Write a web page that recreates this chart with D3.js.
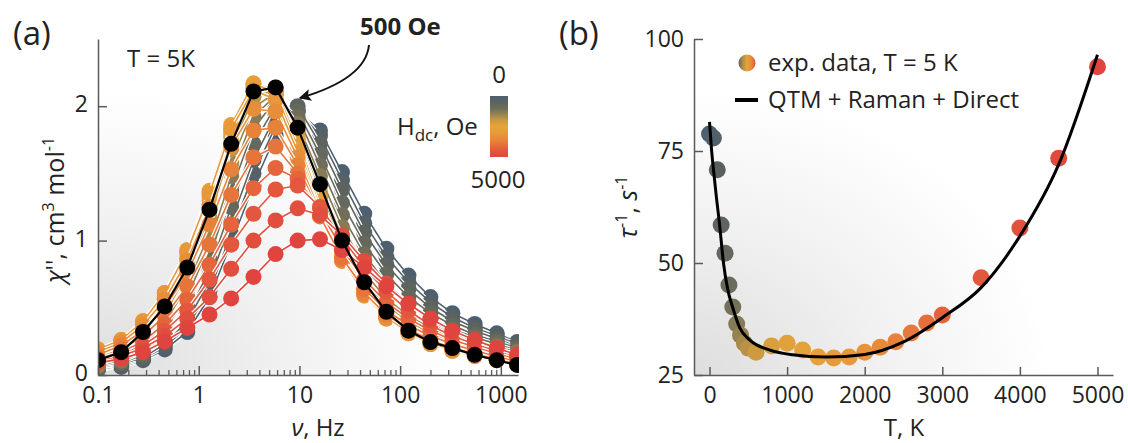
<!DOCTYPE html>
<html>
<head>
<meta charset="utf-8">
<script src="https://cdn.jsdelivr.net/npm/d3@7"></script>
<style>
  body { margin: 0; background: #fff; }
  svg text { font-family: "Open Sans", sans-serif; fill: #222; }
</style>
</head>
<body>
<svg id="drawing_region" width="1128" height="443"></svg>
<script>
// (a) chi'' vs frequency at T = 5 K, one row per dc field
const freqs = [0.1, 0.17, 0.28, 0.46, 0.77, 1.28, 2.1, 3.5, 5.8, 9.6, 16, 26.5, 44, 73, 121, 200, 330, 550, 910, 1450];
const fieldsA = [0, 50, 100, 150, 200, 250, 300, 400, 600, 800, 1000, 1400, 1800, 2200, 2600, 3000, 3500, 4000, 4500, 5000];
const chiA = [
  [0.04, 0.06, 0.11, 0.19, 0.32, 0.58, 0.98, 1.41, 1.78, 1.96, 1.82, 1.51, 1.20, 0.94, 0.74, 0.58, 0.46, 0.38, 0.31, 0.245],
  [0.04, 0.07, 0.12, 0.21, 0.36, 0.63, 1.05, 1.50, 1.85, 1.97, 1.78, 1.45, 1.13, 0.88, 0.69, 0.54, 0.43, 0.35, 0.29, 0.23],
  [0.05, 0.08, 0.13, 0.23, 0.40, 0.70, 1.14, 1.60, 1.93, 2.00, 1.72, 1.38, 1.06, 0.82, 0.64, 0.50, 0.40, 0.33, 0.27, 0.21],
  [0.05, 0.09, 0.15, 0.26, 0.45, 0.78, 1.25, 1.72, 2.00, 1.96, 1.64, 1.28, 0.98, 0.75, 0.58, 0.46, 0.37, 0.30, 0.25, 0.20],
  [0.06, 0.10, 0.17, 0.30, 0.51, 0.87, 1.37, 1.83, 2.05, 1.92, 1.56, 1.19, 0.90, 0.68, 0.53, 0.42, 0.34, 0.28, 0.23, 0.18],
  [0.07, 0.11, 0.19, 0.34, 0.58, 0.97, 1.48, 1.92, 2.08, 1.87, 1.48, 1.10, 0.82, 0.62, 0.48, 0.38, 0.31, 0.25, 0.21, 0.17],
  [0.08, 0.13, 0.22, 0.39, 0.66, 1.06, 1.58, 1.99, 2.10, 1.82, 1.41, 1.03, 0.76, 0.57, 0.44, 0.35, 0.28, 0.23, 0.19, 0.15],
  [0.10, 0.16, 0.27, 0.46, 0.75, 1.17, 1.68, 2.07, 2.12, 1.79, 1.36, 0.97, 0.70, 0.52, 0.40, 0.31, 0.25, 0.20, 0.16, 0.13],
  [0.13, 0.20, 0.33, 0.53, 0.84, 1.27, 1.77, 2.13, 2.13, 1.76, 1.32, 0.93, 0.66, 0.48, 0.36, 0.28, 0.22, 0.18, 0.14, 0.11],
  [0.15, 0.22, 0.35, 0.56, 0.87, 1.30, 1.80, 2.15, 2.14, 1.76, 1.31, 0.92, 0.64, 0.46, 0.34, 0.26, 0.21, 0.17, 0.13, 0.10],
  [0.17, 0.24, 0.37, 0.58, 0.90, 1.33, 1.83, 2.16, 2.13, 1.74, 1.29, 0.90, 0.62, 0.44, 0.33, 0.25, 0.20, 0.16, 0.12, 0.09],
  [0.19, 0.26, 0.40, 0.61, 0.93, 1.37, 1.86, 2.17, 2.10, 1.70, 1.25, 0.87, 0.60, 0.42, 0.31, 0.23, 0.18, 0.14, 0.11, 0.08],
  [0.19, 0.26, 0.40, 0.61, 0.92, 1.35, 1.83, 2.12, 2.05, 1.66, 1.22, 0.85, 0.59, 0.42, 0.31, 0.23, 0.18, 0.14, 0.11, 0.08],
  [0.17, 0.24, 0.37, 0.56, 0.85, 1.25, 1.70, 1.98, 1.96, 1.62, 1.21, 0.85, 0.60, 0.43, 0.32, 0.24, 0.19, 0.15, 0.11, 0.08],
  [0.15, 0.22, 0.33, 0.50, 0.76, 1.12, 1.53, 1.82, 1.84, 1.56, 1.19, 0.86, 0.61, 0.45, 0.34, 0.26, 0.20, 0.16, 0.12, 0.09],
  [0.13, 0.19, 0.29, 0.44, 0.66, 0.97, 1.34, 1.62, 1.70, 1.50, 1.18, 0.87, 0.64, 0.48, 0.37, 0.29, 0.23, 0.18, 0.14, 0.10],
  [0.12, 0.17, 0.25, 0.38, 0.56, 0.82, 1.12, 1.39, 1.54, 1.46, 1.22, 0.94, 0.71, 0.54, 0.42, 0.33, 0.26, 0.21, 0.16, 0.12],
  [0.11, 0.15, 0.22, 0.33, 0.48, 0.71, 0.97, 1.20, 1.38, 1.41, 1.25, 1.02, 0.80, 0.62, 0.48, 0.37, 0.29, 0.23, 0.18, 0.14],
  [0.10, 0.14, 0.20, 0.29, 0.42, 0.58, 0.79, 1.00, 1.15, 1.24, 1.19, 1.04, 0.85, 0.68, 0.53, 0.41, 0.32, 0.25, 0.20, 0.15],
  [0.09, 0.12, 0.17, 0.25, 0.35, 0.45, 0.57, 0.73, 0.90, 1.00, 1.01, 0.93, 0.80, 0.66, 0.53, 0.42, 0.33, 0.26, 0.20, 0.15]
];
const chi500 = [0.11, 0.17, 0.32, 0.51, 0.80, 1.23, 1.72, 2.11, 2.14, 1.84, 1.42, 1.00, 0.69, 0.47, 0.33, 0.245, 0.20, 0.15, 0.11, 0.075];
const xTicksA = [0.1, 1, 10, 100, 1000];
const yTicksA = [0, 1, 2];

// (b) relaxation rate vs field
const fieldB = [0, 50, 100, 150, 200, 250, 300, 350, 400, 450, 500, 600, 800, 1000, 1200, 1400, 1600, 1800, 2000, 2200, 2400, 2600, 2800, 3000, 3500, 4000, 4500, 5000];
const rateB = [78.8, 77.9, 70.8, 58.5, 52.2, 45.1, 40.2, 36.4, 33.9, 32.1, 31.0, 30.1, 31.5, 32.1, 30.6, 29.0, 28.8, 29.0, 30.1, 31.2, 32.4, 34.4, 36.6, 38.4, 46.7, 57.8, 73.4, 93.8];
const fitField = [0, 25, 50, 90, 130, 180, 230, 300, 390, 520, 770, 1070, 1500, 2000, 2500, 3000, 3500, 4000, 4500, 5000];
const fitRate = [81.5, 75.5, 71, 64.5, 58.5, 50, 44.5, 40, 35.5, 32.8, 30.6, 29.5, 29, 29.6, 32.4, 37.8, 44.5, 56, 72, 96.5];
const xTicksB = [0, 1000, 2000, 3000, 4000, 5000];
const yTicksB = [25, 50, 75, 100];

const cmap = d3.scaleLinear()
  .domain([0, 0.08, 0.2, 0.3, 0.42, 0.5, 0.65, 0.78, 0.88, 1])
  .range(["#4c6072", "#59615f", "#6b6c5c", "#96834f", "#d49d3e", "#e6a43a", "#e8963a", "#e6783b", "#e25a3d", "#e0443e"]);

const svg = d3.select('#drawing_region');
const defs = svg.append('defs');

function bgGradient(id) {
  const g = defs.append('radialGradient').attr('id', id)
    .attr('cx', 0).attr('cy', 1).attr('r', 1).attr('fx', 0).attr('fy', 1);
  g.append('stop').attr('offset', 0).attr('stop-color', '#dedede');
  g.append('stop').attr('offset', 0.45).attr('stop-color', '#f1f1f1');
  g.append('stop').attr('offset', 0.85).attr('stop-color', '#ffffff');
}
bgGradient('bgA');
bgGradient('bgB');

const barGrad = defs.append('linearGradient').attr('id', 'cbar')
  .attr('x1', 0).attr('y1', 0).attr('x2', 0).attr('y2', 1);
d3.range(0, 1.01, 0.1).forEach(t => barGrad.append('stop').attr('offset', t).attr('stop-color', cmap(t)));

const legGrad = defs.append('linearGradient').attr('id', 'legdot');
[0.1, 0.35, 0.5, 0.7, 0.95].forEach((t, i) =>
  legGrad.append('stop').attr('offset', i / 4).attr('stop-color', cmap(t)));

defs.append('clipPath').attr('id', 'clipA')
  .append('rect').attr('x', 98).attr('y', 20).attr('width', 421).attr('height', 355);

defs.append('marker').attr('id', 'arrow')
  .attr('viewBox', '0 0 10 10').attr('refX', 9).attr('refY', 5)
  .attr('markerUnits', 'userSpaceOnUse').attr('markerWidth', 15).attr('markerHeight', 12)
  .attr('orient', 'auto')
  .append('path').attr('d', 'M0,0 L10,5 L0,10 L2,5 z').attr('fill', '#111');

function styleAxis(g, size) {
  g.select('.domain').attr('stroke', '#5a5a5a').attr('stroke-width', 1.5);
  g.selectAll('.tick line').attr('stroke', '#5a5a5a').attr('stroke-width', 1.5);
  g.selectAll('.tick text').attr('font-family', '"Open Sans", sans-serif')
    .attr('font-size', size).attr('fill', '#222');
  g.attr('font-family', null).attr('font-size', null);
}

// ---------- panel (a) ----------
const xA = d3.scaleLog().domain([0.1, 1480]).range([98, 518]);
const yA = d3.scaleLinear().domain([0, 2.5]).range([375, 39]);

svg.append('rect').attr('x', 98).attr('y', 39).attr('width', 420).attr('height', 336).attr('fill', 'url(#bgA)');

const lineA = d3.line().x((d, i) => xA(freqs[i])).y(d => yA(d));
const plotA = svg.append('g').attr('clip-path', 'url(#clipA)');

chiA.forEach((vals, k) => {
  const c = cmap(k / (chiA.length - 1));
  const g = plotA.append('g').attr('class', 'h' + fieldsA[k]);
  g.append('path').attr('d', lineA(vals)).attr('fill', 'none').attr('stroke', '#fff').attr('stroke-width', 4);
  g.append('path').attr('d', lineA(vals)).attr('fill', 'none').attr('stroke', c).attr('stroke-width', 1.6);
  g.selectAll('circle').data(vals).join('circle')
    .attr('cx', (d, i) => xA(freqs[i])).attr('cy', d => yA(d)).attr('r', 8).attr('fill', c);
});

const g500 = plotA.append('g');
g500.append('path').attr('d', lineA(chi500)).attr('fill', 'none').attr('stroke', '#000').attr('stroke-width', 2.2);
g500.selectAll('circle').data(chi500).join('circle')
  .attr('cx', (d, i) => xA(freqs[i])).attr('cy', d => yA(d)).attr('r', 8).attr('fill', '#000');

const minorA = [];
[0.1, 1, 10, 100, 1000].forEach(dec => d3.range(2, 10).forEach(m => { if (dec * m < 1480) minorA.push(dec * m); }));

svg.append('g').attr('transform', 'translate(0,375)')
  .call(d3.axisBottom(xA).tickValues(minorA).tickSize(-5).tickFormat(''))
  .call(g => { g.select('.domain').remove(); g.selectAll('line').attr('stroke', '#5a5a5a').attr('stroke-width', 1.3); });

svg.append('g').attr('transform', 'translate(0,375)')
  .call(d3.axisBottom(xA).tickValues(xTicksA).tickSizeInner(-9).tickSizeOuter(0).tickPadding(12).tickFormat(d => String(d)))
  .call(g => styleAxis(g, 23));

svg.append('g').attr('transform', 'translate(98,0)')
  .call(d3.axisLeft(yA).tickValues(yTicksA).tickSizeInner(-9).tickSizeOuter(0).tickPadding(10).tickFormat(d3.format('d')))
  .call(g => styleAxis(g, 23))
  .call(g => g.selectAll('.tick text').attr('dy', '0.25em'));

svg.append('text').attr('x', 13).attr('y', 45).attr('font-size', 33).text('(a)');
svg.append('text').attr('x', 127).attr('y', 67).attr('font-size', 24).text('T = 5K');

const yLabA = svg.append('text').attr('transform', 'translate(64,210) rotate(-90)')
  .attr('text-anchor', 'middle').attr('font-size', 25);
yLabA.append('tspan').attr('font-style', 'italic').text('χ');
yLabA.append('tspan').text("'', cm");
yLabA.append('tspan').attr('dy', -10).attr('font-size', 16).text('3');
yLabA.append('tspan').attr('dy', 10).text(' mol');
yLabA.append('tspan').attr('dy', -10).attr('font-size', 16).text('-1');

const xLabA = svg.append('text').attr('x', 318).attr('y', 436).attr('text-anchor', 'middle').attr('font-size', 24);
xLabA.append('tspan').attr('font-style', 'italic').text('ν');
xLabA.append('tspan').text(', Hz');

svg.append('text').attr('x', 360).attr('y', 35).attr('font-size', 24).attr('font-weight', 'bold').text('500 Oe');
svg.append('path').attr('d', 'M369,45 C367,66 348,84 300,98')
  .attr('fill', 'none').attr('stroke', '#111').attr('stroke-width', 2).attr('marker-end', 'url(#arrow)');

// colour bar
svg.append('rect').attr('x', 490).attr('y', 96).attr('width', 18).attr('height', 61).attr('fill', 'url(#cbar)');
svg.append('text').attr('x', 499).attr('y', 83).attr('text-anchor', 'middle').attr('font-size', 24).text('0');
svg.append('text').attr('x', 498).attr('y', 188).attr('text-anchor', 'middle').attr('font-size', 24).text('5000');
const hdc = svg.append('text').attr('x', 397).attr('y', 135).attr('font-size', 24);
hdc.append('tspan').text('H');
hdc.append('tspan').attr('dy', 6).attr('font-size', 17).text('dc');
hdc.append('tspan').attr('dy', -6).text(', Oe');

// ---------- panel (b) ----------
const xB = d3.scaleLinear().domain([-200, 5200]).range([694, 1113]);
const yB = d3.scaleLinear().domain([25, 100]).range([375, 39]);

svg.append('rect').attr('x', 694).attr('y', 39).attr('width', 419).attr('height', 336).attr('fill', 'url(#bgB)');

svg.append('g').selectAll('circle').data(rateB).join('circle')
  .attr('cx', (d, i) => xB(fieldB[i])).attr('cy', d => yB(d)).attr('r', 8.5)
  .attr('fill', (d, i) => cmap(i / (rateB.length - 1)));

const fitLine = d3.line().x((d, i) => xB(fitField[i])).y(d => yB(d)).curve(d3.curveMonotoneX);
svg.append('path').attr('d', fitLine(fitRate)).attr('fill', 'none').attr('stroke', '#000').attr('stroke-width', 3);

svg.append('g').attr('transform', 'translate(0,375)')
  .call(d3.axisBottom(xB).tickValues(xTicksB).tickSizeInner(-8).tickSizeOuter(0).tickPadding(12).tickFormat(d3.format('d')))
  .call(g => styleAxis(g, 23));

svg.append('g').attr('transform', 'translate(694,0)')
  .call(d3.axisLeft(yB).tickValues(yTicksB).tickSizeInner(-9).tickSizeOuter(0).tickPadding(10).tickFormat(d3.format('d')))
  .call(g => styleAxis(g, 23));

svg.append('text').attr('x', 559).attr('y', 45).attr('font-size', 33).text('(b)');

const yLabB = svg.append('text').attr('transform', 'translate(637,207) rotate(-90)')
  .attr('text-anchor', 'middle').attr('font-size', 25);
yLabB.append('tspan').attr('font-style', 'italic').text('τ');
yLabB.append('tspan').attr('dy', -10).attr('font-size', 16).text('-1');
yLabB.append('tspan').attr('dy', 10).text(', ');
yLabB.append('tspan').attr('font-style', 'italic').text('s');
yLabB.append('tspan').attr('dy', -10).attr('font-size', 16).text('-1');

svg.append('text').attr('x', 904).attr('y', 436).attr('text-anchor', 'middle').attr('font-size', 24).text('T, K');

// legend
svg.append('circle').attr('cx', 747).attr('cy', 63).attr('r', 8.5).attr('fill', 'url(#legdot)');
svg.append('text').attr('x', 768).attr('y', 71).attr('font-size', 24).text('exp. data, T = 5 K');
svg.append('line').attr('x1', 735).attr('x2', 758).attr('y1', 100).attr('y2', 100).attr('stroke', '#000').attr('stroke-width', 4);
svg.append('text').attr('x', 768).attr('y', 108).attr('font-size', 24).text('QTM + Raman + Direct');
</script>
</body>
</html>
